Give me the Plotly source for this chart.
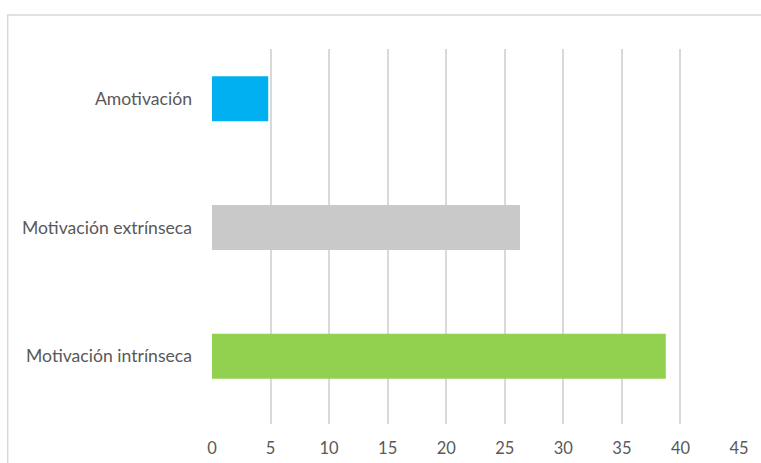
import plotly.graph_objects as go

# Motivation types (top to bottom) and their scores
categories = ["Amotivación", "Motivación extrínseca", "Motivación intrínseca"]
values = [4.8, 26.3, 38.75]
colors = ["#00b0f0", "#c9c9c9", "#92d050"]
x_ticks = [0, 5, 10, 15, 20, 25, 30, 35, 40, 45]

fig = go.Figure(
    go.Bar(
        x=values,
        y=categories,
        orientation="h",
        marker=dict(color=colors, line=dict(width=0)),
        width=0.35,
        hoverinfo="x+y",
    )
)

font_family = "Lato, 'Open Sans', sans-serif"
label_color = "#595959"

fig.update_layout(
    width=761,
    height=463,
    margin=dict(l=211.5, r=22, t=49, b=39, autoexpand=False),
    paper_bgcolor="white",
    plot_bgcolor="white",
    showlegend=False,
    font=dict(family=font_family, size=16, color=label_color),
    xaxis=dict(
        range=[0, 45],
        tickvals=x_ticks,
        ticktext=[str(v) for v in x_ticks],
        showgrid=True,
        gridcolor="#d9d9d9",
        gridwidth=1.5,
        zeroline=False,
        showline=False,
        ticks="",
        automargin=False,
        ticklabelstandoff=12,
        tickfont=dict(size=16.5, color=label_color),
        fixedrange=True,
    ),
    yaxis=dict(
        type="category",
        categoryorder="array",
        categoryarray=categories,
        range=[2.526, -0.387],
        showgrid=False,
        zeroline=False,
        showline=False,
        ticks="",
        automargin=False,
        ticklabelstandoff=19,
        tickfont=dict(size=17.6, color=label_color),
        fixedrange=True,
    ),
    shapes=[
        dict(
            type="rect",
            xref="paper",
            yref="paper",
            x0=-0.3877,
            x1=1.06,
            y0=-0.15,
            y1=1.0907,
            line=dict(color="#d9d9d9", width=1.5),
            fillcolor="rgba(0,0,0,0)",
            layer="below",
        )
    ],
)

fig.write_html("out.html")
